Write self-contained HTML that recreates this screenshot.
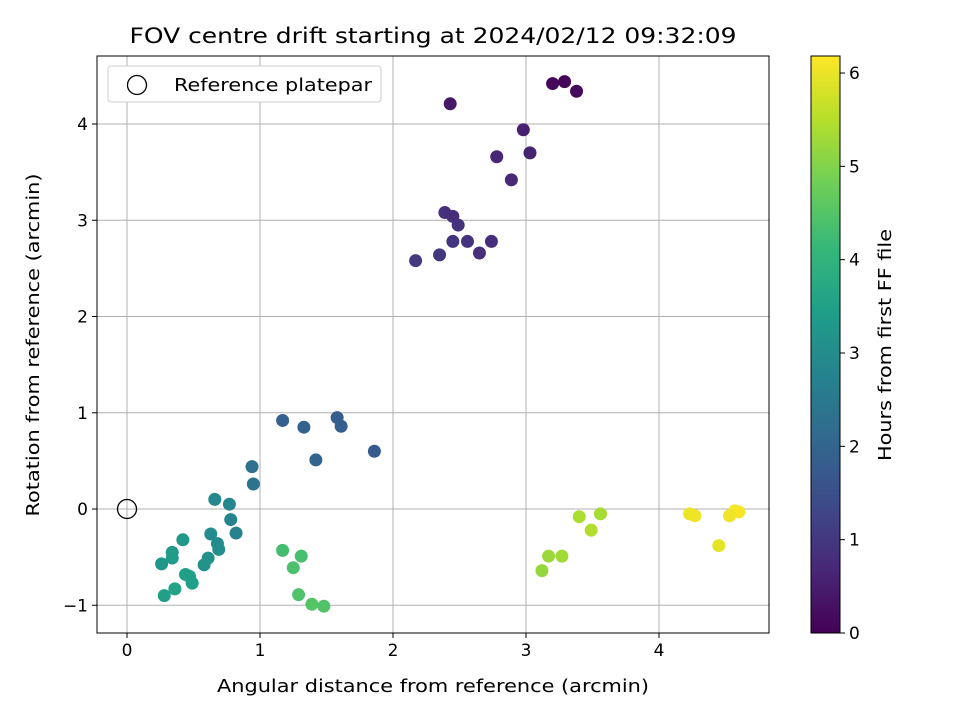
<!DOCTYPE html>
<html><head><meta charset="utf-8"><style>
body{margin:0;background:#fff;font-family:"Liberation Sans","DejaVu Sans",sans-serif}
svg text{font-family:"DejaVu Sans","Liberation Sans",sans-serif}
</style></head><body>
<svg id="c" width="960" height="720" xmlns="http://www.w3.org/2000/svg"></svg>
<script>
const xs=[3.20,3.29,3.38,2.43,2.98,2.78,3.03,2.89,2.39,2.45,2.49,2.45,2.56,2.74,2.65,2.35,2.17,
1.17,1.33,1.58,1.61,1.42,1.86,0.94,0.95,
0.66,0.77,0.78,0.82,0.63,0.68,0.69,0.61,0.58,0.42,0.34,0.34,0.26,0.44,0.47,0.49,0.36,0.28,
1.17,1.31,1.25,1.29,1.39,1.48,
3.40,3.56,3.49,3.17,3.27,3.12,
4.23,4.27,4.57,4.60,4.53,4.45];
const ys=[4.42,4.44,4.34,4.21,3.94,3.66,3.70,3.42,3.08,3.04,2.95,2.78,2.78,2.78,2.66,2.64,2.58,
0.92,0.85,0.95,0.86,0.51,0.60,0.44,0.26,
0.10,0.05,-0.11,-0.25,-0.26,-0.36,-0.42,-0.51,-0.58,-0.32,-0.45,-0.51,-0.57,-0.68,-0.70,-0.77,-0.83,-0.90,
-0.43,-0.49,-0.61,-0.89,-0.99,-1.01,
-0.08,-0.05,-0.22,-0.49,-0.49,-0.64,
-0.05,-0.07,-0.02,-0.03,-0.07,-0.38];
const hours=[0.10,0.05,0.15,0.40,0.55,0.65,0.60,0.70,0.85,0.80,0.90,0.95,0.90,0.80,0.85,1.00,1.05,
1.90,1.95,1.80,1.85,2.00,1.75,2.30,2.35,
2.90,2.85,2.80,2.75,3.00,2.95,3.05,3.10,3.15,3.30,3.35,3.40,3.25,3.45,3.50,3.45,3.55,3.50,
4.30,4.35,4.40,4.45,4.50,4.45,
5.40,5.35,5.45,5.25,5.30,5.20,
6.00,6.05,6.10,6.12,6.05,5.95];
const xTicks=[0,1,2,3,4], yTicks=[-1,0,1,2,3,4], cTicks=[0,1,2,3,4,5,6];
const NS="http://www.w3.org/2000/svg", svg=document.getElementById('c');
const L=97,R=769,T=56,B=633;
const X=v=>127+v*133, Y=v=>509-v*96.25, CY=v=>633-v*93.33;
const vir=[[68,1,84],[72,40,120],[62,74,137],[49,104,142],[38,130,142],[31,158,137],[53,183,121],[110,206,88],[181,222,43],[253,231,37]];
function col(h){let t=Math.max(0,Math.min(1,h/6.18))*(vir.length-1);let i=Math.min(Math.floor(t),vir.length-2),f=t-i;
 const c=vir[i].map((a,k)=>Math.round(a+(vir[i+1][k]-a)*f));return `rgb(${c})`;}
function el(tag,at,txt){const e=document.createElementNS(NS,tag);for(const k in at)e.setAttribute(k,at[k]);if(txt!=null)e.textContent=txt;svg.appendChild(e);return e;}
let e;
e=el('text',{x:433,y:43,'text-anchor':'middle','font-size':'21',textLength:607,lengthAdjust:'spacingAndGlyphs'},'FOV centre drift starting at 2024/02/12 09:32:09');

xTicks.forEach(v=>{e=el('line',{x1:X(v),x2:X(v),y1:T,y2:B,stroke:'#b0b0b0','stroke-width':1});

el('line',{x1:X(v),x2:X(v),y1:B,y2:B+5,stroke:'#000'});
e=el('text',{x:X(v),y:B+23,'text-anchor':'middle','font-size':'17'},String(v));
});
yTicks.forEach(v=>{e=el('line',{x1:L,x2:R,y1:Y(v),y2:Y(v),stroke:'#b0b0b0','stroke-width':1});

el('line',{x1:L-5,x2:L,y1:Y(v),y2:Y(v),stroke:'#000'});
e=el('text',{x:L-9,y:Y(v)+6,'text-anchor':'end','font-size':'17'},v<0?'\u2212'+(-v):String(v));
});
xs.forEach((x,i)=>{e=el('circle',{cx:X(x),cy:Y(ys[i]),r:6.5,fill:col(hours[i])});
});
e=el('circle',{cx:X(0),cy:Y(0),r:9.5,fill:'none',stroke:'#000','stroke-width':1.3});

e=el('rect',{x:L,y:T,width:R-L,height:B-T,fill:'none',stroke:'#000','stroke-width':1});

e=el('text',{x:433,y:692,'text-anchor':'middle','font-size':'18',textLength:432,lengthAdjust:'spacingAndGlyphs'},'Angular distance from reference (arcmin)');

e=el('text',{x:39,y:345,'text-anchor':'middle','font-size':'18',textLength:343,lengthAdjust:'spacingAndGlyphs',transform:'rotate(-90 39 345)'},'Rotation from reference (arcmin)');

// legend
e=el('rect',{x:108,y:66,width:273,height:36,rx:3,fill:'#fff',stroke:'#ccc'});

el('circle',{cx:137,cy:85,r:9.5,fill:'none',stroke:'#000','stroke-width':1.3});
e=el('text',{x:174,y:91,'font-size':'18',textLength:198,lengthAdjust:'spacingAndGlyphs'},'Reference platepar');

// colorbar
const g=el('linearGradient',{id:'vg',x1:0,y1:1,x2:0,y2:0});
vir.forEach((c,i)=>{const s=document.createElementNS(NS,'stop');s.setAttribute('offset',i/(vir.length-1));s.setAttribute('stop-color',`rgb(${c})`);g.appendChild(s);});
e=el('rect',{x:811,y:T,width:29,height:B-T,fill:'url(#vg)',stroke:'#000','stroke-width':1});

cTicks.forEach(v=>{el('line',{x1:840,x2:845,y1:CY(v),y2:CY(v),stroke:'#000'});
e=el('text',{x:849,y:CY(v)+6,'font-size':'17'},String(v));
});
e=el('text',{x:891,y:345,'text-anchor':'middle','font-size':'18',textLength:232,lengthAdjust:'spacingAndGlyphs',transform:'rotate(-90 891 345)'},'Hours from first FF file');

</script></body></html>
